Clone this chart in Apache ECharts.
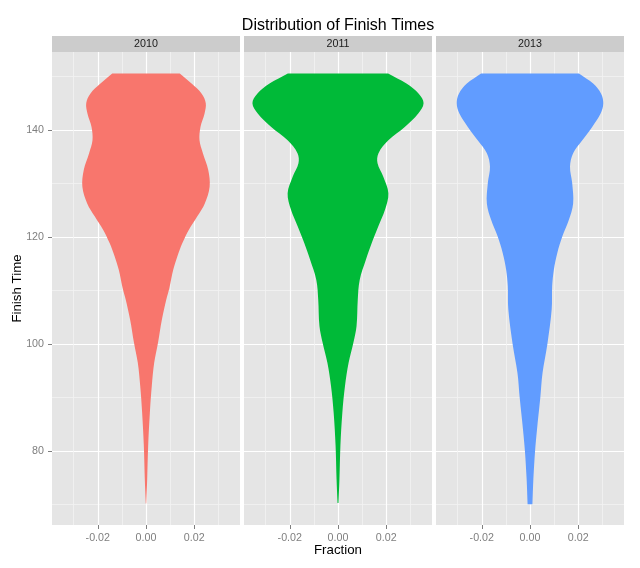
<!DOCTYPE html>
<html>
<head>
<meta charset="utf-8">
<script src="https://cdn.jsdelivr.net/npm/echarts@6/dist/echarts.min.js"></script>
<style>
html,body{margin:0;padding:0;background:#fff;}
#chart{width:640px;height:568px;}
</style>
</head>
<body>
<div id="chart"></div>
<script>
// ---- data ----
const years = ['2010', '2011', '2013'];
const colors = ['#F8766D', '#00BA38', '#619CFF'];

const times2010 = [70.2, 74.8, 81, 87.2, 92.2, 96.5, 100.3, 104.6, 108.3, 110.5, 113.9, 116.4, 118.9, 121.4, 123.9, 126.3, 129.4, 132.6, 135.7, 138.1, 140.6, 143.1, 145.0, 146.8, 148.7, 150.6];
const widths2010 = [0.0001, 0.0005, 0.0009, 0.0016, 0.0024, 0.0034, 0.0050, 0.0066, 0.0084, 0.0097, 0.0113, 0.0130, 0.0151, 0.0178, 0.0213, 0.0244, 0.0264, 0.0258, 0.0236, 0.0222, 0.0226, 0.0243, 0.0248, 0.0231, 0.0189, 0.0140];

const times2011 = [70.3, 74.8, 81, 87.2, 92.2, 96.5, 100.3, 103.4, 108.3, 112.0, 115.8, 118.9, 122.0, 125.1, 128.2, 131.3, 133.8, 135.7, 138.1, 140.6, 143.1, 145.0, 146.8, 148.7, 150.6];
const widths2011 = [0.0002, 0.0006, 0.0010, 0.0018, 0.0029, 0.0044, 0.0064, 0.0077, 0.0082, 0.0090, 0.0116, 0.0140, 0.0167, 0.0195, 0.0209, 0.0188, 0.0164, 0.0168, 0.0209, 0.0277, 0.0333, 0.0355, 0.0335, 0.0284, 0.0208];

const times2013 = [70.1, 74.8, 80, 84, 90.1, 94.6, 100, 106.5, 110.8, 113.9, 117.0, 120.1, 123.2, 126.3, 130.1, 133.2, 135.7, 138.1, 140.6, 143.1, 145.0, 146.8, 148.7, 150.6];
const widths2013 = [0.0010, 0.0014, 0.0021, 0.0029, 0.0043, 0.0052, 0.0072, 0.0090, 0.0092, 0.0099, 0.0113, 0.0134, 0.0161, 0.0179, 0.0175, 0.0166, 0.0179, 0.0217, 0.0258, 0.0293, 0.0304, 0.0295, 0.0262, 0.0203];

const xMajor = [-0.02, 0, 0.02];
const xMinor = [-0.03, -0.01, 0.01, 0.03];
const yMajor = [80, 100, 120, 140];
const yMinor = [70, 90, 110, 130, 150];
const xMin = -0.039, xMax = 0.039;
const yMin = 66.2, yMax = 154.6;

const titleText = 'Distribution of Finish Times';
const xName = 'Fraction';
const yName = 'Finish Time';

// ---- layout ----
const FONT = '"Liberation Sans", Arial, Helvetica, sans-serif';
const panelLefts = [52, 244, 436];
const panelW = 188;
const panelTop = 52, panelBottom = 525;
const stripTop = 36, stripH = 16;

const violinTimes = [times2010, times2011, times2013];
const violinWidths = [widths2010, widths2011, widths2013];

const grids = [], xAxes = [], yAxes = [], series = [], graphics = [];

panelLefts.forEach(function (left, i) {
  grids.push({
    left: left, width: panelW, top: panelTop, height: panelBottom - panelTop,
    show: true, backgroundColor: '#E5E5E5', borderWidth: 0,
    containLabel: false, outerBoundsMode: 'none'
  });
  // major x axis
  xAxes.push({
    gridIndex: i, type: 'value', min: xMin, max: xMax,
    name: i === 1 ? xName : '', nameLocation: 'middle', nameGap: 19,
    nameMoveOverlap: false,
    nameTextStyle: { fontFamily: FONT, fontSize: 13.3, color: '#000000' },
    axisLine: { show: false, onZero: false },
    axisTick: { show: true, length: 4, customValues: xMajor, lineStyle: { color: '#7F7F7F', width: 1 } },
    axisLabel: { show: true, customValues: xMajor, margin: 8, fontFamily: FONT, fontSize: 10.7, color: '#7F7F7F',
      formatter: function (v) { return (Math.abs(v) < 1e-9 ? 0 : v).toFixed(2); } },
    splitLine: { show: true, lineStyle: { color: '#FFFFFF', width: 1.2 } }
  });
  // minor x axis (grid lines only)
  xAxes.push({
    gridIndex: i, type: 'value', min: xMin, max: xMax, position: 'bottom',
    axisLine: { show: false, onZero: false },
    axisTick: { show: false, customValues: xMinor },
    axisLabel: { show: false, customValues: xMinor },
    splitLine: { show: true, lineStyle: { color: '#F2F2F2', width: 0.8 } }
  });
  yAxes.push({
    gridIndex: i, type: 'value', min: yMin, max: yMax, position: 'left',
    name: i === 0 ? yName : '', nameLocation: 'middle', nameGap: 28, nameRotate: 90,
    nameMoveOverlap: false,
    nameTextStyle: { fontFamily: FONT, fontSize: 13.3, color: '#000000' },
    axisLine: { show: false, onZero: false },
    axisTick: { show: i === 0, length: 4, customValues: yMajor, lineStyle: { color: '#7F7F7F', width: 1 } },
    axisLabel: { show: i === 0, customValues: yMajor, margin: 8, fontFamily: FONT, fontSize: 10.7, color: '#7F7F7F' },
    splitLine: { show: true, lineStyle: { color: '#FFFFFF', width: 1.2 } }
  });
  yAxes.push({
    gridIndex: i, type: 'value', min: yMin, max: yMax, position: 'left',
    axisLine: { show: false, onZero: false },
    axisTick: { show: false, customValues: yMinor },
    axisLabel: { show: false, customValues: yMinor },
    splitLine: { show: true, lineStyle: { color: '#F2F2F2', width: 0.8 } }
  });

  const ts = violinTimes[i], ws = violinWidths[i], col = colors[i];
  series.push({
    type: 'custom', name: years[i],
    xAxisIndex: 2 * i, yAxisIndex: 2 * i,
    silent: true, z: 5,
    data: [[0, ts[0]]],
    encode: { x: 0, y: 1 },
    renderItem: function (params, api) {
      const leftPts = [], rightPts = [];
      for (let k = 0; k < ts.length; k++) {
        leftPts.push(api.coord([-ws[k], ts[k]]));
        rightPts.push(api.coord([ws[k], ts[k]]));
      }
      rightPts.reverse();
      // repeat end points so the smoothing keeps the flat top and bottom sharp
      const pts = [leftPts[0]].concat(leftPts, [leftPts[leftPts.length - 1]],
                                      [rightPts[0]], rightPts, [rightPts[rightPts.length - 1]]);
      return { type: 'polygon', shape: { points: pts, smooth: 0.35 }, style: { fill: col, stroke: null } };
    }
  });

  // facet strip
  graphics.push({ type: 'rect', silent: true, shape: { x: left, y: stripTop, width: panelW, height: stripH }, style: { fill: '#CCCCCC' } });
  graphics.push({ type: 'text', silent: true, x: left + panelW / 2, y: stripTop + stripH / 2,
    style: { text: years[i], fill: '#1A1A1A', font: '10.7px ' + FONT, align: 'center', verticalAlign: 'middle' } });
});

graphics.push({ type: 'text', silent: true, x: (panelLefts[0] + panelLefts[2] + panelW) / 2, y: 26,
  style: { text: titleText, fill: '#000000', font: '16px ' + FONT, align: 'center', verticalAlign: 'middle' } });

const chart = echarts.init(document.getElementById('chart'), null, { renderer: 'canvas' });
chart.setOption({
  animation: false,
  backgroundColor: '#FFFFFF',
  textStyle: { fontFamily: FONT },
  grid: grids,
  xAxis: xAxes,
  yAxis: yAxes,
  series: series,
  graphic: graphics
});
</script>
</body>
</html>
